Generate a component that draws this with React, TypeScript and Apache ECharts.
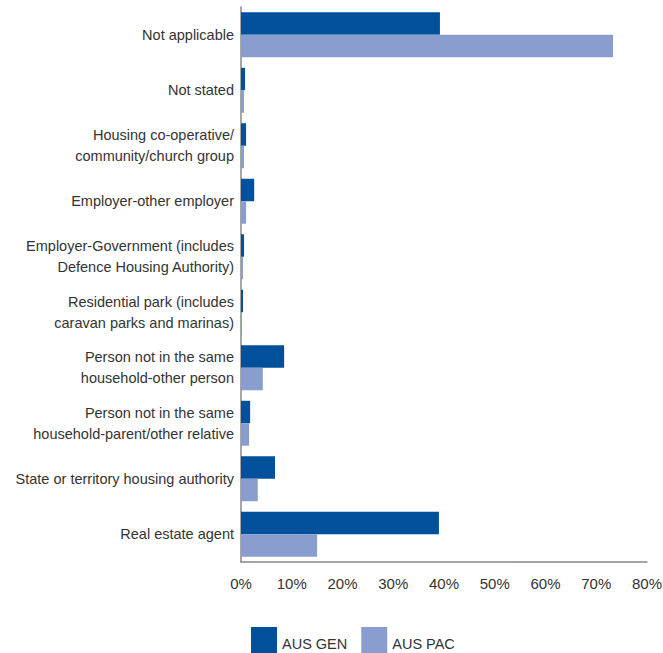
import React, { useEffect, useRef } from "react";
import * as echarts from "echarts";

const categories = [
  "Not applicable",
  "Not stated",
  "Housing co-operative/\ncommunity/church group",
  "Employer-other employer",
  "Employer-Government (includes\nDefence Housing Authority)",
  "Residential park (includes\ncaravan parks and marinas)",
  "Person not in the same\nhousehold-other person",
  "Person not in the same\nhousehold-parent/other relative",
  "State or territory housing authority",
  "Real estate agent",
];

const ausGen = [39.2, 0.8, 1.0, 2.6, 0.6, 0.4, 8.5, 1.8, 6.7, 39.0];
const ausPac = [73.3, 0.6, 0.6, 1.0, 0.4, 0.2, 4.3, 1.6, 3.3, 15.0];

const xTicks = [0, 10, 20, 30, 40, 50, 60, 70, 80];

const FONT = "'Liberation Sans', Arial, sans-serif";

export default function App() {
  const ref = useRef<HTMLDivElement>(null);
  useEffect(() => {
    if (!ref.current) return;
    const chart = echarts.init(ref.current, null, { renderer: "svg" });
    chart.setOption({
      animation: false,
      textStyle: { fontFamily: FONT },
      grid: {
        left: 241,
        right: 16,
        top: 7,
        bottom: 91,
        containLabel: false,
        outerBoundsMode: "none",
      },
      legend: {
        left: 246,
        top: 622,
        itemWidth: 26,
        itemHeight: 34,
        itemGap: 14,
        icon: "rect",
        textStyle: { fontFamily: FONT, fontSize: 14.5, color: "#333" },
        data: ["AUS GEN", "AUS PAC"],
      },
      xAxis: {
        type: "value",
        min: xTicks[0],
        max: xTicks[xTicks.length - 1],
        interval: 10,
        axisLine: { show: true, lineStyle: { color: "#888", width: 1.5 } },
        axisTick: { show: false },
        splitLine: { show: false },
        axisLabel: {
          formatter: "{value}%",
          fontFamily: FONT,
          fontSize: 15,
          color: "#333",
          margin: 14,
        },
      },
      yAxis: {
        type: "category",
        inverse: true,
        data: categories,
        axisLine: { show: true, lineStyle: { color: "#888", width: 1.5 } },
        axisTick: { show: false },
        axisLabel: {
          fontFamily: FONT,
          fontSize: 14.5,
          color: "#333",
          margin: 7,
          lineHeight: 21,
          align: "right",
        },
      },
      series: [
        {
          name: "AUS GEN",
          type: "bar",
          data: ausGen,
          barGap: "0%",
          barCategoryGap: "19%",
          itemStyle: { color: "#00509B" },
        },
        {
          name: "AUS PAC",
          type: "bar",
          data: ausPac,
          barGap: "0%",
          barCategoryGap: "19%",
          itemStyle: { color: "#8A9DCF" },
        },
      ],
    });
    return () => chart.dispose();
  }, []);
  return (
    <div
      ref={ref}
      style={{ position: "absolute", left: 0, top: 0, width: 663, height: 653 }}
    />
  );
}
